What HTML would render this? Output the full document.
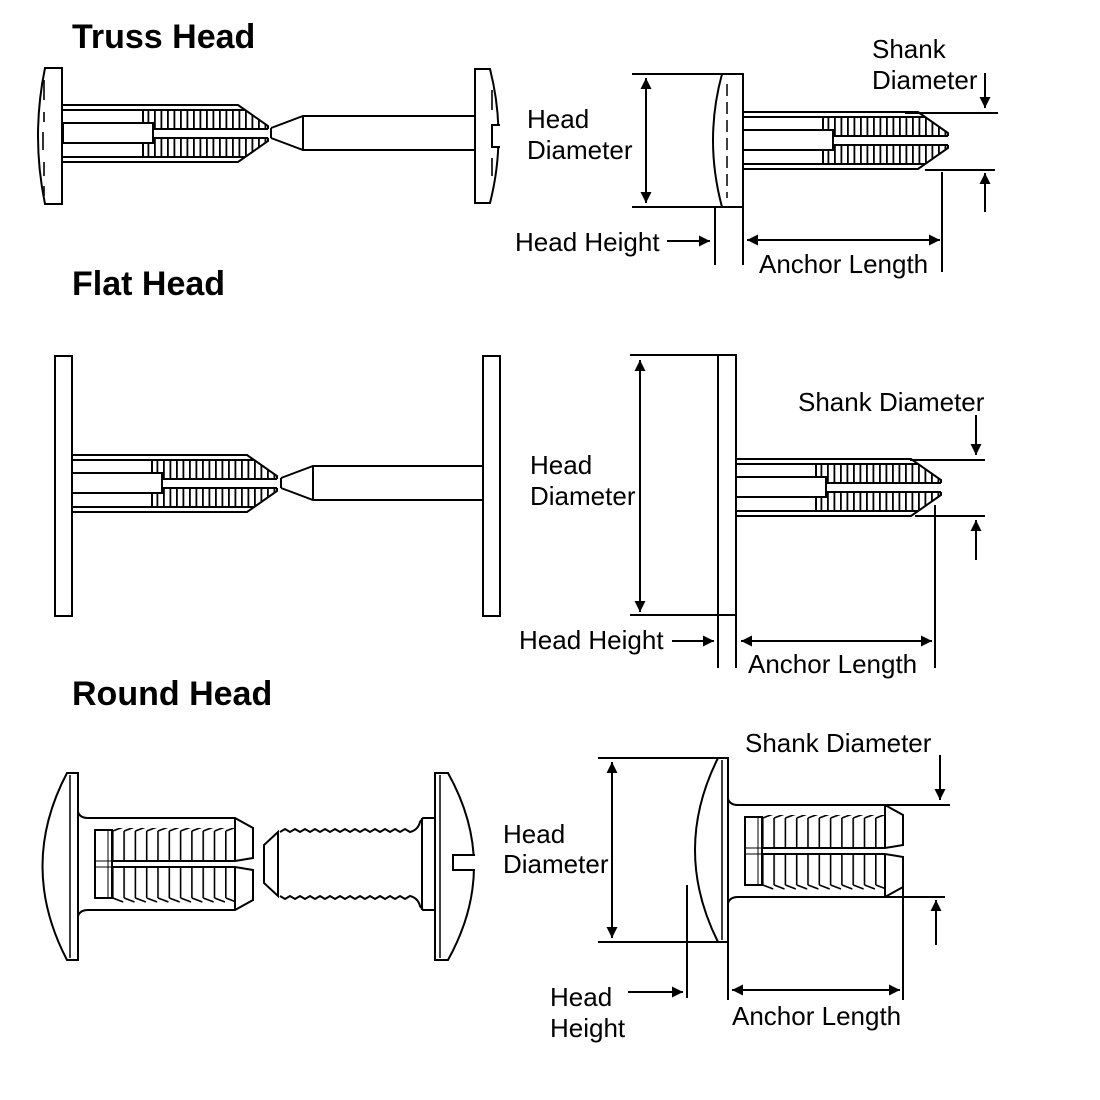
<!DOCTYPE html>
<html><head><meta charset="utf-8"><style>
html,body{margin:0;padding:0;background:#fff;}
svg{display:block;}
text{font-family:"Liberation Sans",sans-serif;fill:#000;}
.t{font-size:26px;}
.h{font-size:34px;font-weight:bold;}
</style></head><body>
<svg width="1100" height="1100" viewBox="0 0 1100 1100" xmlns="http://www.w3.org/2000/svg">
<defs>
<pattern id="hatch" patternUnits="userSpaceOnUse" width="6.5" height="10"><rect x="0" y="0" width="1.8" height="10" fill="#000"/></pattern>
<pattern id="teeth" patternUnits="userSpaceOnUse" x="34" y="0" width="11.3" height="92">
<path d="M0.8,13 V43 M0.8,49 V80 M0.8,13 L11.3,9 M0.8,80 L11.3,84" stroke="#000" stroke-width="1.6" fill="none"/>
</pattern>
<marker id="ah" viewBox="0 0 10 10" refX="10" refY="5" markerWidth="18" markerHeight="11" markerUnits="userSpaceOnUse" orient="auto-start-reverse"><path d="M0,0 L10,5 L0,10 Z" fill="#000"/></marker>
<g id="anchorT" fill="none" stroke="#000" stroke-width="2">
<polygon points="80,5 182,5 205,21 205,24 80,24" fill="url(#hatch)" stroke="none"/>
<polygon points="80,33 205,33 205,36 182,52 80,52" fill="url(#hatch)" stroke="none"/>
<path d="M0,0 H175 L205,21 V24 M0,57 H175 L205,36 V33 M0,5 H182 M0,52 H182 M90,24 H205 M90,33 H205 M80,5 V24 M80,33 V52"/>
<rect x="0" y="18" width="90" height="20" fill="#fff"/>
</g>
<g id="screwT" fill="#fff" stroke="#000" stroke-width="2">
<path d="M0,-5 L32,-17 H204 M0,5 L32,17 H204 M0,-5 V5 M32,-17 V17" fill="none"/>
</g>
<g id="anchorR" fill="none" stroke="#000" stroke-width="2">
<rect x="34" y="10" width="123" height="75" fill="url(#teeth)" stroke="none"/>
<path d="M0,-6 Q2,0 10,0 H157 L175,10 V40 L157,43 M157,49 L175,52 V82 L157,92 H10 Q2,92 0,98"/>
<path d="M157,0 V43 M157,49 V92"/>
<path d="M34,43 H157 M34,49 H157"/>
<rect x="17" y="12" width="17" height="68"/>
<path d="M17,43 H34 M17,49 H34 M30,12 V80" stroke-width="1"/>
</g>
</defs>

<text class="h" x="72" y="48">Truss Head</text>
<text class="h" x="72" y="295">Flat Head</text>
<text class="h" x="72" y="705">Round Head</text>

<!-- TRUSS LEFT -->
<g fill="#fff" stroke="#000" stroke-width="2">
<path d="M62,68 H45 Q31,136 45,204 H62 Z"/>
<path d="M44,80 V100 M44,112 V122 M43,132 V150 M44,162 V176 M44,186 V196" stroke-width="1.6"/>
<use href="#anchorT" x="63" y="105"/>
<use href="#screwT" x="271" y="133"/>
<path d="M475,69 H490 Q507,136 490,203 H475 Z"/>
<path d="M500,125 H492 V147 H500" fill="#fff"/>
<path d="M492,90 V110 M492,158 V176" stroke-width="1.6"/>
</g>

<!-- TRUSS RIGHT -->
<g fill="none" stroke="#000" stroke-width="2">
<path d="M743,74 H722 Q704,140 722,207 H743 Z" fill="#fff"/>
<path d="M727,84 V198" stroke-dasharray="12,6" stroke-width="1.5"/>
<use href="#anchorT" x="743" y="112"/>
<path d="M632,74 H722 M632,207 H722"/>
<path d="M646,78 V203" marker-start="url(#ah)" marker-end="url(#ah)"/>
<path d="M715,207 V265 M743,207 V265"/>
<path d="M667,241 H710" marker-end="url(#ah)"/>
<path d="M747,240 H940" marker-start="url(#ah)" marker-end="url(#ah)"/>
<path d="M942,172 V272"/>
<path d="M905,113 H998 M925,170 H995"/>
<path d="M985,73 V108" marker-end="url(#ah)"/>
<path d="M985,212 V173" marker-end="url(#ah)"/>
</g>
<text class="t" x="872" y="58">Shank</text>
<text class="t" x="872" y="89">Diameter</text>
<text class="t" x="527" y="128">Head</text>
<text class="t" x="527" y="159">Diameter</text>
<text class="t" x="515" y="251">Head Height</text>
<text class="t" x="759" y="273">Anchor Length</text>

<!-- FLAT LEFT -->
<g fill="#fff" stroke="#000" stroke-width="2">
<rect x="55" y="356" width="17" height="260"/>
<use href="#anchorT" x="72" y="455"/>
<use href="#screwT" x="281" y="483"/>
<path d="M313,466 H483 M313,500 H483" fill="none"/>
<rect x="483" y="356" width="17" height="260"/>
</g>

<!-- FLAT RIGHT -->
<g fill="none" stroke="#000" stroke-width="2">
<rect x="718" y="355" width="18" height="260" fill="#fff"/>
<use href="#anchorT" x="736" y="459"/>
<path d="M630,355 H718 M630,615 H718"/>
<path d="M640,360 V612" marker-start="url(#ah)" marker-end="url(#ah)"/>
<path d="M718,615 V668 M736,615 V668"/>
<path d="M672,641 H714" marker-end="url(#ah)"/>
<path d="M741,641 H932" marker-start="url(#ah)" marker-end="url(#ah)"/>
<path d="M935,505 V668"/>
<path d="M910,460 H985 M915,516 H985"/>
<path d="M976,415 V455" marker-end="url(#ah)"/>
<path d="M976,560 V520" marker-end="url(#ah)"/>
</g>
<text class="t" x="798" y="411">Shank Diameter</text>
<text class="t" x="530" y="474">Head</text>
<text class="t" x="530" y="505">Diameter</text>
<text class="t" x="519" y="649">Head Height</text>
<text class="t" x="748" y="673">Anchor Length</text>

<!-- ROUND LEFT -->
<g fill="#fff" stroke="#000" stroke-width="2">
<path d="M78,773 H67 Q18,866 67,960 H78 Z"/>
<path d="M70,775 V958" stroke-width="1.5"/>
<use href="#anchorR" x="78" y="818"/>
<path d="M278,832 L264,845 V883 L278,896 Z"/>
<path d="M280,832 l5,-3 l5,3 l5,-3 l5,3 l5,-3 l5,3 l5,-3 l5,3 l5,-3 l5,3 l5,-3 l5,3 l5,-3 l5,3 l5,-3 l5,3 l5,-3 l5,3 l5,-3 l5,3 l5,-3 l5,3 l5,-3 l5,3 l5,-3 l5,3 Q418,830 420,822 L423,818 H435" fill="none"/>
<path d="M280,896 l5,3 l5,-3 l5,3 l5,-3 l5,3 l5,-3 l5,3 l5,-3 l5,3 l5,-3 l5,3 l5,-3 l5,3 l5,-3 l5,3 l5,-3 l5,3 l5,-3 l5,3 l5,-3 l5,3 l5,-3 l5,3 l5,-3 l5,3 l5,-3 Q418,898 420,906 L423,910 H435" fill="none"/>
<path d="M422,818 V910" fill="none"/>
<path d="M435,773 H448 Q500,866 448,960 H435 Z"/>
<path d="M440,775 V958" stroke-width="1.5"/>
<path d="M475,855 H453 V870 H475" />
</g>

<!-- ROUND RIGHT -->
<g fill="none" stroke="#000" stroke-width="2">
<path d="M728,758 H718 Q672,850 718,942 H728 Z" fill="#fff"/>
<path d="M722,760 V940" stroke-width="1.5"/>
<use href="#anchorR" x="728" y="805"/>
<path d="M598,758 H718 M598,942 H728"/>
<path d="M612,762 V938" marker-start="url(#ah)" marker-end="url(#ah)"/>
<path d="M687,885 V998"/>
<path d="M628,992 H683" marker-end="url(#ah)"/>
<path d="M728,942 V1000 M903,880 V1000"/>
<path d="M732,990 H900" marker-start="url(#ah)" marker-end="url(#ah)"/>
<path d="M885,805 H950 M885,897 H945"/>
<path d="M940,755 V800" marker-end="url(#ah)"/>
<path d="M936,945 V900" marker-end="url(#ah)"/>
</g>
<text class="t" x="745" y="752">Shank Diameter</text>
<text class="t" x="503" y="843">Head</text>
<text class="t" x="503" y="873">Diameter</text>
<text class="t" x="550" y="1006">Head</text>
<text class="t" x="550" y="1037">Height</text>
<text class="t" x="732" y="1025">Anchor Length</text>
</svg>
</body></html>
